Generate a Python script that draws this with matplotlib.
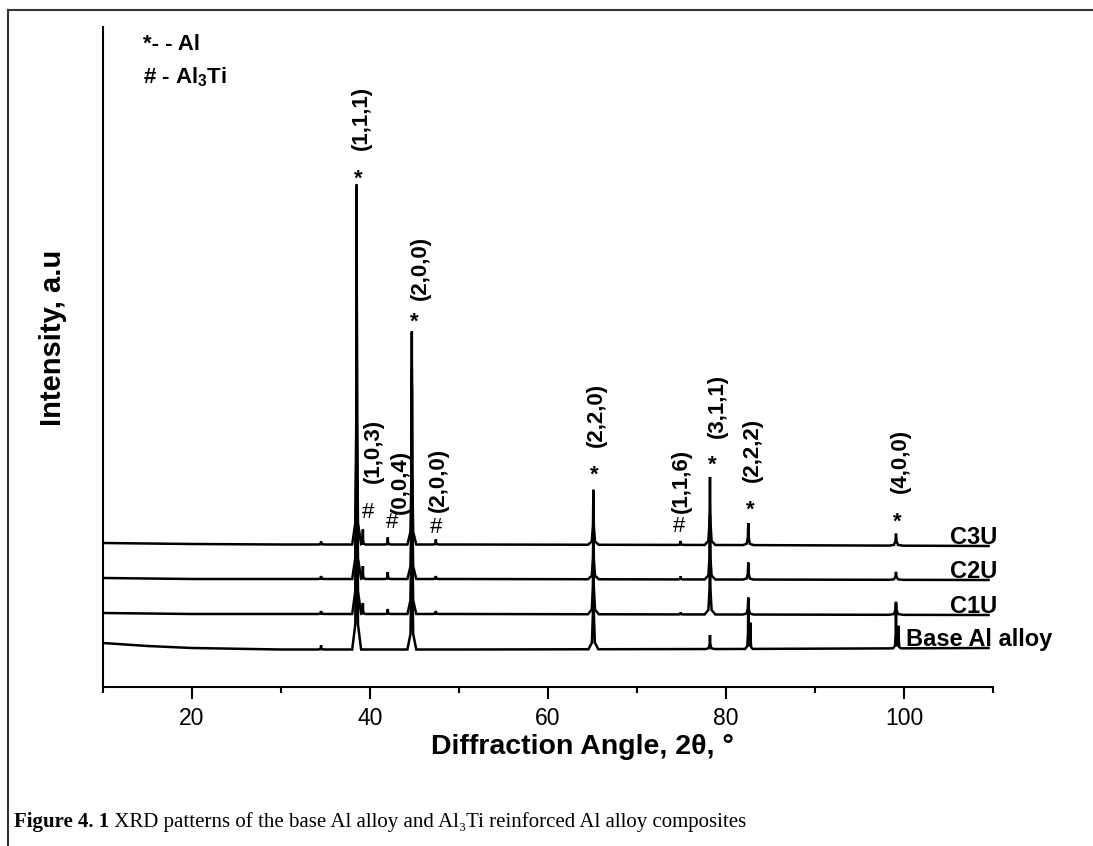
import matplotlib
matplotlib.use("Agg")
import matplotlib.pyplot as plt
from matplotlib.lines import Line2D
import numpy as np

plt.rcParams['font.family'] = ['Liberation Sans', 'DejaVu Sans']
plt.rcParams['mathtext.fontset'] = 'custom'
plt.rcParams['mathtext.rm'] = 'Liberation Sans'
plt.rcParams['mathtext.bf'] = 'Liberation Sans:bold'

# background level of each pattern (2theta in degrees, stacked intensity a.u.)
bg_angle = [10, 15, 20, 30, 50, 80, 109.5]
bg_base = [44, 41, 39, 37.5, 37.5, 38, 39]
bg_c1u = [74, 73.5, 73, 73, 73, 72.5, 72]
bg_c2u = [109, 108.5, 108, 108, 108, 107.5, 107]
bg_c3u = [144, 143.5, 143, 142.5, 142.5, 142, 141]

# reflections: position, half base width (base alloy / composites), height above background
peak_angle = [34.5, 38.5, 39.2, 42.0, 44.7, 47.4, 65.1, 74.9, 78.2, 82.5, 82.75, 99.1, 99.4]
width_base = [0.4, 0.5, 0.3, 0.35, 0.5, 0.4, 0.55, 0.4, 0.5, 0.35, 0.25, 0.35, 0.25]
width_comp = [0.4, 0.5, 0.3, 0.35, 0.5, 0.4, 0.6, 0.4, 0.6, 0.6, 0.3, 0.8, 0.3]
h_base = [4, 420, 0, 0, 260, 0, 110, 0, 14, 48, 25, 45, 22]
h_c1u = [3, 380, 11, 5, 230, 3, 80, 2, 75, 17, 0, 13, 0]
h_c2u = [3, 350, 13, 7, 210, 3, 60, 3, 65, 17, 0, 8, 0]
h_c3u = [3, 360, 15, 7, 213, 5, 55, 4, 68, 22, 0, 12, 0]

samples = ["Base Al alloy", "C1U", "C2U", "C3U"]

# indexed reflections marked on the top pattern
ann_angle = [38.5, 44.7, 39.2, 42.0, 47.4, 65.1, 74.9, 78.2, 82.5, 99.1]
ann_phase = ["*", "*", "#", "#", "#", "*", "#", "*", "*", "*"]
ann_hkl = ["(1,1,1)", "(2,0,0)", "(1,0,3)", "(0,0,4)", "(2,0,0)",
           "(2,2,0)", "(1,1,6)", "(3,1,1)", "(2,2,2)", "(4,0,0)"]


def pattern(bg, heights, widths):
    # background plus a sharp, long-tailed spike per reflection
    shape_dx = np.array([-1, -0.3, -0.08, 0, 0.08, 0.3, 1])
    shape_f = np.array([0, 0.06, 0.35, 1, 0.35, 0.06, 0])
    xs = list(bg_angle)
    for a, w, h in zip(peak_angle, widths, heights):
        if h > 0:
            xs += list(a + shape_dx * w)
    xs = np.unique(xs)
    ys = np.interp(xs, bg_angle, bg)
    for a, w, h in zip(peak_angle, widths, heights):
        if h > 0:
            ys = ys + np.interp(xs, a + shape_dx * w, shape_f * h, left=0, right=0)
    return xs, ys


fig = plt.figure(figsize=(10.93, 8.46), dpi=100)
ax = fig.add_axes([103 / 1093, 1 - 687 / 846, 890 / 1093, 660 / 846])

traces = {}
for name, bg, hs, ws in zip(samples, [bg_base, bg_c1u, bg_c2u, bg_c3u],
                            [h_base, h_c1u, h_c2u, h_c3u],
                            [width_base, width_comp, width_comp, width_comp]):
    x, y = pattern(bg, hs, ws)
    traces[name] = (x, y)
    ax.plot(x, y, color='black', lw=1.8, solid_joinstyle='miter')

ax.set_xlim(10, 110)
ax.set_ylim(0, 660)
ax.set_yticks([])
ax.set_xticks([20, 40, 60, 80, 100])
ax.set_xticks(np.arange(10, 111, 10), minor=True)
ax.tick_params(axis='x', which='major', direction='out', length=8.5, width=1.5,
               labelsize=16.5, pad=6)
ax.tick_params(axis='x', which='minor', direction='out', length=4.5, width=1.5)
for s in ['top', 'right']:
    ax.spines[s].set_visible(False)
for s in ['left', 'bottom']:
    ax.spines[s].set_linewidth(1.5)

# peak markers and Miller indices
x3, y3 = traces["C3U"]
mark_off = [(2, 10), (2, 14), (5, 17), (4, 15), (0, 12), (1, 20), (-2, 14), (2, 17), (2, 18), (1, 16)]
label_off = [(5, 35), (9, 32), (10, 47), (13, 24), (3, 27), (3, 43), (1, 28), (7, 39), (4, 41), (4, 41)]
for a, ph, hkl, (mdx, mdy), (ldx, ldy) in zip(ann_angle, ann_phase, ann_hkl, mark_off, label_off):
    top = np.interp(a, x3, y3)
    if ph == "*":
        ax.annotate("*", xy=(a, top), xytext=(mdx, mdy - 5), textcoords='offset pixels',
                    ha='center', va='center', fontsize=16, fontweight='bold')
    else:
        ax.annotate("#", xy=(a, top), xytext=(mdx, mdy), textcoords='offset pixels',
                    ha='center', va='center', fontsize=16)
    ax.annotate(hkl, xy=(a, top), xytext=(ldx, ldy), textcoords='offset pixels',
                ha='center', va='bottom', rotation=90, fontsize=16, fontweight='bold')

# sample names at the right end of each pattern
name_x = {"Base Al alloy": 100.2, "C1U": 105.2, "C2U": 105.2, "C3U": 105.2}
for name in samples:
    x, y = traces[name]
    ax.text(name_x[name], y[-1] + 2, name, ha='left', va='baseline',
            fontsize=17, fontweight='bold')

# phase key
fig.text(143 / 1093, 1 - 44 / 846, "*- - Al", ha='left', va='center',
         fontsize=16, fontweight='bold')
fig.text(143 / 1093, 1 - 77 / 846, r"# - Al$_\mathbf{3}$Ti", ha='left', va='center',
         fontsize=16, fontweight='bold')

fig.text(53 / 1093, 1 - 338 / 846, "Intensity, a.u", rotation=90, ha='center',
         va='center', fontsize=21, fontweight='bold')
fig.text(582 / 1093, 1 - 754 / 846, "Diffraction Angle, 2θ, °", ha='center',
         va='baseline', fontsize=20.5, fontweight='bold')

# caption
cap = fig.text(14 / 1093, 1 - 822 / 846, "Figure 4. 1", ha='left', va='center',
               fontsize=15, fontweight='bold', family=['Liberation Serif', 'DejaVu Serif'])
ax.annotate(" XRD patterns of the base Al alloy and Al\u2083Ti reinforced Al alloy composites",
            xy=(1, 0), xycoords=cap, va='bottom', ha='left', fontsize=15,
            family=['Liberation Serif', 'DejaVu Serif'], annotation_clip=False)

# page frame
fig.add_artist(Line2D([8 / 1093, 1], [1 - 10 / 846, 1 - 10 / 846], color='#333333', lw=1.5))
fig.add_artist(Line2D([8 / 1093, 8 / 1093], [0, 1 - 10 / 846], color='#333333', lw=1.5))

fig.savefig("out.png", dpi=100)
